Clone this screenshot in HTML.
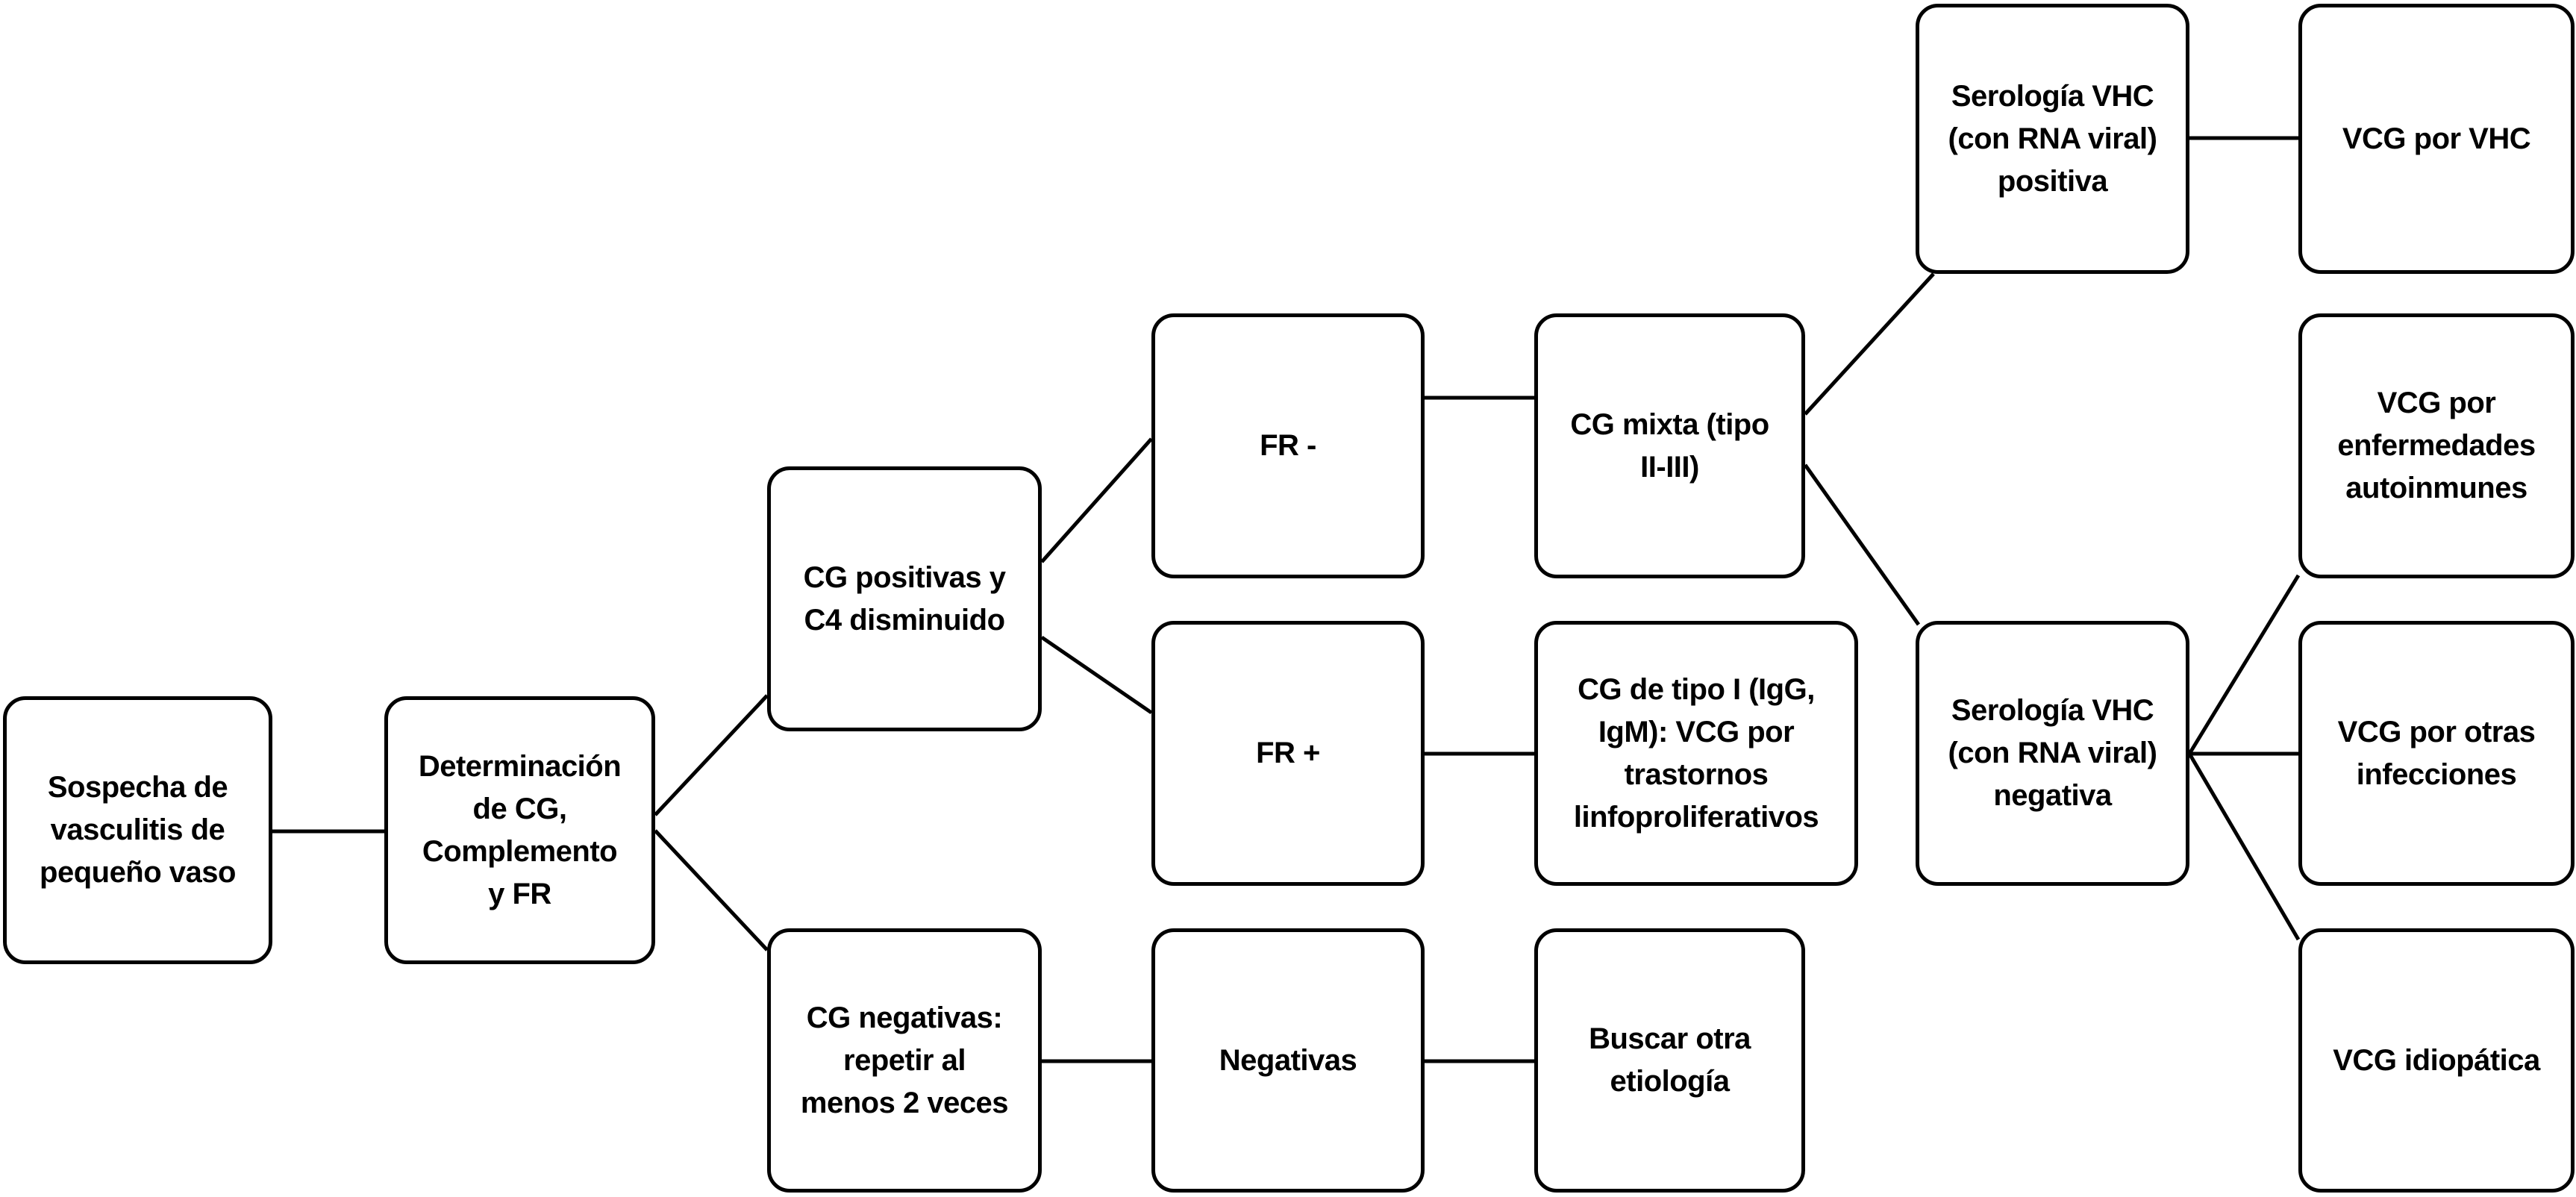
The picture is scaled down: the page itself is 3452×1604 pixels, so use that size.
<!DOCTYPE html>
<html><head><meta charset="utf-8">
<style>
html,body{margin:0;padding:0;background:#fff;}
body{width:3452px;height:1604px;position:relative;overflow:hidden;font-family:"Liberation Sans",sans-serif;}
.b{position:absolute;box-sizing:border-box;border:5px solid #000;border-radius:30px;background:#fff;display:flex;align-items:center;justify-content:center;text-align:center;font-weight:bold;font-size:40px;line-height:57px;letter-spacing:-0.5px;white-space:nowrap;color:#000;}
svg{position:absolute;left:0;top:0;}
</style></head><body>
<svg width="3452" height="1604" stroke="#000" stroke-width="5" fill="none">
<line x1="365" y1="1114" x2="515" y2="1114"/>
<line x1="878" y1="1092" x2="1028" y2="932"/>
<line x1="878" y1="1113" x2="1028" y2="1273"/>
<line x1="1396" y1="753" x2="1543" y2="588"/>
<line x1="1396" y1="854" x2="1543" y2="955"/>
<line x1="1909" y1="533" x2="2056" y2="533"/>
<line x1="1909" y1="1010" x2="2056" y2="1010"/>
<line x1="1396" y1="1422" x2="1543" y2="1422"/>
<line x1="1909" y1="1422" x2="2056" y2="1422"/>
<line x1="2419" y1="555" x2="2591" y2="367"/>
<line x1="2419" y1="623" x2="2571" y2="837"/>
<line x1="2934" y1="185" x2="3080" y2="185"/>
<line x1="2934" y1="1010" x2="3080" y2="771"/>
<line x1="2934" y1="1010" x2="3080" y2="1010"/>
<line x1="2934" y1="1010" x2="3080" y2="1259"/>
</svg>
<div class="b" style="left:4px;top:933px;width:361px;height:359px">Sospecha de<br>vasculitis de<br>pequeño vaso</div>
<div class="b" style="left:515px;top:933px;width:363px;height:359px">Determinación<br>de CG,<br>Complemento<br>y FR</div>
<div class="b" style="left:1028px;top:625px;width:368px;height:355px">CG positivas y<br>C4 disminuido</div>
<div class="b" style="left:1028px;top:1244px;width:368px;height:354px">CG negativas:<br>repetir al<br>menos 2 veces</div>
<div class="b" style="left:1543px;top:420px;width:366px;height:355px">FR -</div>
<div class="b" style="left:1543px;top:832px;width:366px;height:355px">FR +</div>
<div class="b" style="left:1543px;top:1244px;width:366px;height:354px">Negativas</div>
<div class="b" style="left:2056px;top:420px;width:363px;height:355px">CG mixta (tipo<br>II-III)</div>
<div class="b" style="left:2056px;top:832px;width:434px;height:355px">CG de tipo I (IgG,<br>IgM): VCG por<br>trastornos<br>linfoproliferativos</div>
<div class="b" style="left:2056px;top:1244px;width:363px;height:354px">Buscar otra<br>etiología</div>
<div class="b" style="left:2567px;top:5px;width:367px;height:362px">Serología VHC<br>(con RNA viral)<br>positiva</div>
<div class="b" style="left:3080px;top:5px;width:370px;height:362px">VCG por VHC</div>
<div class="b" style="left:2567px;top:832px;width:367px;height:355px">Serología VHC<br>(con RNA viral)<br>negativa</div>
<div class="b" style="left:3080px;top:420px;width:370px;height:355px">VCG por<br>enfermedades<br>autoinmunes</div>
<div class="b" style="left:3080px;top:832px;width:370px;height:355px">VCG por otras<br>infecciones</div>
<div class="b" style="left:3080px;top:1244px;width:370px;height:354px">VCG idiopática</div>
</body></html>
